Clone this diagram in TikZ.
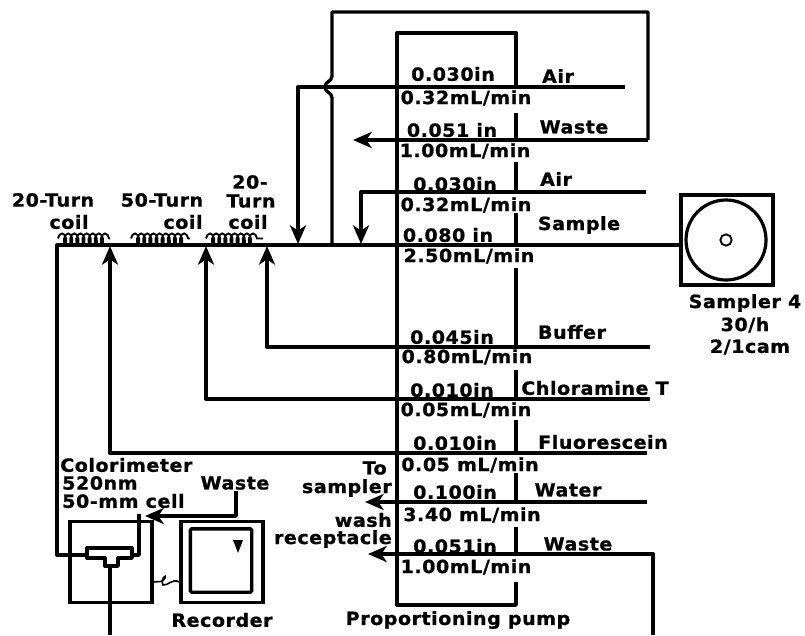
\documentclass[tikz,border=0pt]{standalone}
\usepackage{fontspec}
\setmainfont{DejaVu Sans}[FakeStretch=1.05,LetterSpace=3,BoldFeatures={FakeBold=1}]
\usetikzlibrary{arrows.meta,decorations.pathmorphing,calc}
\tikzset{
    tube/.style = {line width=2.5pt,line join=round},
    flow/.style = {tube,-{Stealth[length=14pt,width=12pt,inset=4pt]}},
    lbl/.style = {inner sep=0pt,font=\bfseries\fontsize{13.6}{15}\selectfont},
    unit/.style = {draw,line width=2.5pt,minimum width=60pt,minimum height=60pt,inner sep=0pt},
    coiled/.style = {line width=1.4pt,decorate,decoration={coil,aspect=0.5,amplitude=3.8pt,segment length=4.6pt}}
}

\begin{document}
\begin{tikzpicture}[x=0.75pt,y=-0.75pt]
  \useasboundingbox (0,0) rectangle (805,635);

  % Draw the units
  \node[unit,minimum width=69pt,minimum height=67.5pt] (sampler) at (727,240) {};
  \node[draw,circle,line width=2.4pt,minimum size=60pt,inner sep=0pt] (disc) at (726,240) {};
  \node[draw,circle,line width=1.4pt,minimum size=8.5pt,inner sep=0pt] (hub) at (726,240) {};
  \node[unit,minimum width=61.5pt,minimum height=61pt] (colorimeter) at (111,562) {};
  \node[unit,minimum width=61.5pt,minimum height=61pt] (recorder) at (222,562) {};
  \node[draw,line width=2.5pt,minimum width=46pt,minimum height=47.5pt,inner sep=0pt,rounded corners=1pt] (chart) at (221,560.5) {};
  \fill (233,540) -- (243,540) -- (238,553) -- cycle;

  % Draw the pump frame
  \coordinate (pumpNW) at (397,33);
  \coordinate (pumpNE) at (516,33);
  \coordinate (pumpSW) at (397,605);
  \coordinate (pumpSE) at (516,605);
  \draw[tube] (516,87) -- (pumpNE) -- (pumpNW) -- (pumpSW) -- (pumpSE) -- (516,582);
  \foreach \a/\b in {113/140,162/192,213/245,268/347,370/400,420/454,473/503,527/554}
    \draw[tube] (516,\a) -- (516,\b);

  % Draw the nodes at the tube ends
  \coordinate (airA) at (625,87);
  \coordinate (airAturn) at (298,87);
  \coordinate (airAend) at (298,244);
  \coordinate (joinB) at (332,245);
  \coordinate (jumpB) at (332,98);
  \coordinate (jumpT) at (332,76);
  \coordinate (topL) at (332,12);
  \coordinate (topR) at (648,12);
  \coordinate (wasteR) at (648,140);
  \coordinate (wasteL) at (353,140);
  \coordinate (airB) at (646,192);
  \coordinate (airBturn) at (361,192);
  \coordinate (airBend) at (361,244);
  \coordinate (mainL) at (57,245);
  \coordinate (mainD) at (57,555);
  \coordinate (bufferR) at (650,347);
  \coordinate (bufferC) at (267,347);
  \coordinate (bufferT) at (267,246);
  \coordinate (chlorR) at (650,399);
  \coordinate (chlorC) at (206,399);
  \coordinate (chlorT) at (206,246);
  \coordinate (fluorR) at (647,453);
  \coordinate (fluorC) at (110,453);
  \coordinate (fluorT) at (110,246);
  \coordinate (waterR) at (647,502);
  \coordinate (waterL) at (365,502);
  \coordinate (drainB) at (653,635);
  \coordinate (drainC) at (653,554);
  \coordinate (drainL) at (368,554);
  \coordinate (cellL) at (87,555);
  \coordinate (cellR) at (132,555);
  \coordinate (cellB) at (110,567);
  \coordinate (cellOut) at (110,635);
  \coordinate (riser) at (139,555);
  \coordinate (riserT) at (139,514);
  \coordinate (wasteT) at (236,491);
  \coordinate (wasteC) at (236,516);
  \coordinate (wasteTip) at (145,516);

  % Draw the coils
  \draw[coiled] (58,238.5) -- (110,238.5);
  \draw[coiled] (131,238.5) -- (190,238.5);
  \draw[coiled] (206,238.5) -- (263,238.5);

  % Draw the arrows
  \draw[flow] (airA) -- (airAturn) -- (airAend);
  \draw[tube] (joinB) -- (jumpB) .. controls (332,92) and (325,93) .. (325,87) .. controls (325,81) and (332,82) .. (jumpT) -- (topL) -- (topR) -- (wasteR);
  \draw[flow] (wasteR) -- (wasteL);
  \draw[flow] (airB) -- (airBturn) -- (airBend);
  \draw[tube] (sampler.west |- mainL) -- (mainL) -- (mainD) -- (cellL);
  \draw[flow] (bufferR) -- (bufferC) -- (bufferT);
  \draw[flow] (chlorR) -- (chlorC) -- (chlorT);
  \draw[flow] (fluorR) -- (fluorC) -- (fluorT);
  \draw[flow] (waterR) -- (waterL);
  \draw[flow] (drainB) -- (drainC) -- (drainL);
  \draw[tube] (cellB) -- (cellOut);
  \draw[tube] (cellR) -- (riser) -- (riserT);
  \draw[flow] (wasteT) -- (wasteC) -- (wasteTip);
  \draw[tube,fill=white] (87,548) -- (132,548) -- (132,558) -- (118,558) -- (118,566) -- (105,566) -- (105,558) -- (87,558) -- cycle;
  \draw[line width=1.2pt] (colorimeter.east |- 0,582) .. controls (160,581) and (162,583) .. (165,578) .. controls (167,574) and (160,578) .. (163,585) .. controls (168,586) and (172,578) .. (recorder.west |- 0,582);

  % Draw the labels
  \node[lbl] (tubeA) at (453,74) {0.030in};
  \node[lbl] (rateA) at (466,98) {0.32mL/min};
  \node[lbl] (nameA) at (558,76) {Air};
  \node[lbl] (tubeB) at (452,130) {0.051 in};
  \node[lbl] (rateB) at (465,151) {1.00mL/min};
  \node[lbl] (nameB) at (574,127) {Waste};
  \node[lbl] (tubeC) at (455,184) {0.030in};
  \node[lbl] (rateC) at (466,205) {0.32mL/min};
  \node[lbl] (nameC) at (556,179) {Air};
  \node[lbl] (tubeD) at (448,235) {0.080 in};
  \node[lbl] (rateD) at (469,256) {2.50mL/min};
  \node[lbl] (nameD) at (579,225) {Sample};
  \node[lbl] (tubeE) at (452,337) {0.045in};
  \node[lbl] (rateE) at (467,357) {0.80mL/min};
  \node[lbl] (nameE) at (572,332) {Buffer};
  \node[lbl] (tubeF) at (452,390) {0.010in};
  \node[lbl] (rateF) at (466,410) {0.05mL/min};
  \node[lbl] (nameF) at (595,388) {Chloramine T};
  \node[lbl] (tubeG) at (455,443) {0.010in};
  \node[lbl] (rateG) at (470,465) {0.05 mL/min};
  \node[lbl] (nameG) at (603,442) {Fluorescein};
  \node[lbl] (tubeH) at (455,492) {0.100in};
  \node[lbl] (rateH) at (472,515) {3.40 mL/min};
  \node[lbl] (nameH) at (568,490) {Water};
  \node[lbl] (tubeI) at (455,546) {0.051in};
  \node[lbl] (rateI) at (466,567) {1.00mL/min};
  \node[lbl] (nameI) at (578,544) {Waste};
  \node[lbl] (pumplbl) at (458,620) {Proportioning pump};
  \node[lbl] (reclbl) at (222,620) {Recorder};
  \node[lbl,anchor=west] (colorA) at (60,465) {Colorimeter};
  \node[lbl,anchor=west] (colorB) at (62,483) {520nm};
  \node[lbl,anchor=west] (colorC) at (62,501) {50-mm cell};
  \node[lbl] (wastelbl) at (235,483) {Waste};
  \node[lbl,anchor=east] (toA) at (387,468) {To};
  \node[lbl,anchor=east] (toB) at (392,488) {sampler};
  \node[lbl,anchor=east] (toC) at (392,520) {wash};
  \node[lbl,anchor=east] (toD) at (392,539) {receptacle};
  \node[lbl] (coilAa) at (53,200) {20-Turn};
  \node[lbl] (coilAb) at (69,222) {coil};
  \node[lbl] (coilBa) at (162,200) {50-Turn};
  \node[lbl] (coilBb) at (183,222) {coil};
  \node[lbl] (coilCa) at (250,182) {20-};
  \node[lbl] (coilCb) at (251,201) {Turn};
  \node[lbl] (coilCc) at (248,222) {coil};
  \node[lbl] (samplerA) at (745,303) {Sampler 4};
  \node[lbl] (samplerB) at (745,325) {30/h};
  \node[lbl] (samplerC) at (750,347) {2/1cam};
\end{tikzpicture}
\end{document}
